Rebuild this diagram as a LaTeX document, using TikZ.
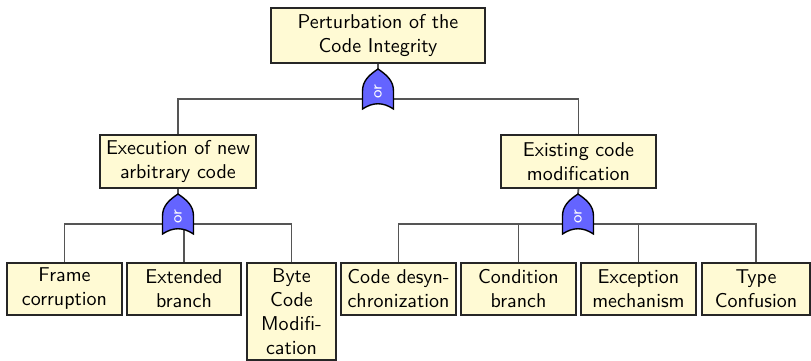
\documentclass[tikz,border=0pt]{standalone}
\usetikzlibrary{backgrounds}
\definecolor{boxfill}{RGB}{255,250,212}
\definecolor{gatefill}{RGB}{100,100,255}
\definecolor{linegray}{RGB}{85,85,85}
\tikzset{
  box/.style={draw=black!85, line width=0.8pt, fill=boxfill, align=center,
    font=\sffamily, inner sep=0pt, anchor=north},
  conn/.style={draw=linegray, line width=0.9pt},
  gatebody/.style={draw=black, line width=0.7pt, fill=gatefill},
  gatetext/.style={text=white, font=\sffamily\footnotesize, rotate=90, inner sep=0pt},
  orgate/.pic={
    \path[gatebody] (0,0) .. controls (9,6) and (15.5,12) .. (15.5,22)
      -- (15.5,40) .. controls (5,33) and (-5,33) .. (-15.5,40)
      -- (-15.5,22) .. controls (-15.5,12) and (-9,6) .. (0,0) -- cycle;
    \coordinate (-tip) at (0,0);
    \coordinate (-bus) at (0,30);
    \node[gatetext] (-label) at (0,23) {or};
  }
}
\begin{document}
\begin{tikzpicture}[x=0.5pt,y=-0.5pt]
\useasboundingbox (0,0) rectangle (811,360);

% boxes
\node[box, minimum width=107pt, minimum height=27.5pt] (top) at (378,7) {Perturbation of the\\Code Integrity};
\node[box, minimum width=78pt, minimum height=26.5pt] (exec) at (178,134) {Execution of new\\arbitrary code};
\node[box, minimum width=77.5pt, minimum height=26.5pt] (exist) at (578.5,134) {Existing code\\modification};

\node[box, minimum width=57.5pt, minimum height=26pt] (frame) at (64.5,262) {Frame\\corruption};
\node[box, minimum width=57pt, minimum height=26pt] (ext) at (184,262) {Extended\\branch};
\node[box, minimum width=44.5pt, minimum height=48.5pt] (byte) at (291.5,262) {Byte\\Code\\Modifi-\\cation};
\node[box, minimum width=57.5pt, minimum height=26pt] (cd) at (398.5,262) {Code desyn-\\chronization};
\node[box, minimum width=57.5pt, minimum height=26pt] (cond) at (518.5,262) {Condition\\branch};
\node[box, minimum width=57.5pt, minimum height=26pt] (exc) at (638.5,262) {Exception\\mechanism};
\node[box, minimum width=54pt, minimum height=26pt] (type) at (756,262) {Type\\Confusion};

% gates
\pic (g1) at (378,69) {orgate};
\pic (g2) at (178,194) {orgate};
\pic (g3) at (578,194) {orgate};

% connectors
\begin{scope}[on background layer]
\draw[conn] (top.south) -- (g1-tip);
\draw[conn] (exec.north) |- (g1-bus) -| (exist.north);

\draw[conn] (exec.south) -- (g2-tip);
\draw[conn] (frame.north) |- (g2-bus) -| (byte.north);
\draw[conn] (ext.north) -- (ext.north |- g2-bus);

\draw[conn] (exist.south) -- (g3-tip);
\draw[conn] (cd.north) |- (g3-bus) -| (type.north);
\draw[conn] (cond.north) -- (cond.north |- g3-bus);
\draw[conn] (exc.north) -- (exc.north |- g3-bus);
\end{scope}
\end{tikzpicture}
\end{document}
